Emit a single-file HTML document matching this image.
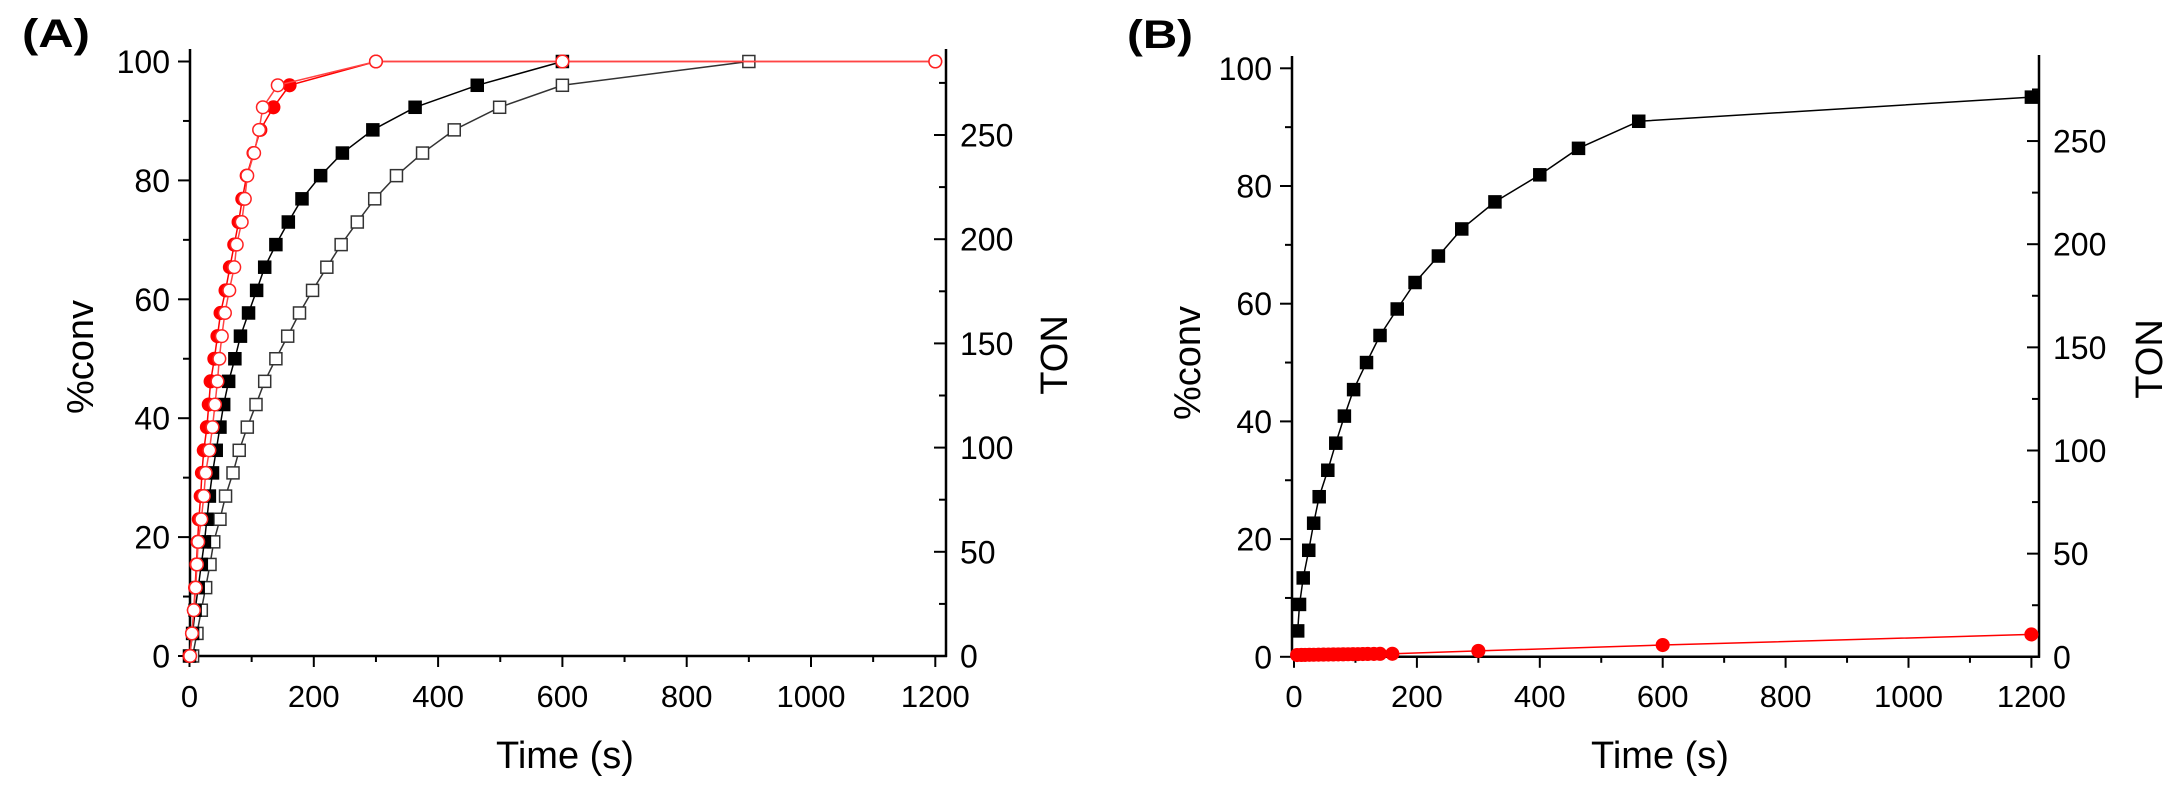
<!DOCTYPE html>
<html><head><meta charset="utf-8"><style>
html,body{margin:0;padding:0;background:#fff;}
svg{display:block;font-family:"Liberation Sans",Arial,sans-serif;}
</style></head><body>
<svg id="s" width="2164" height="786" viewBox="0 0 2164 786" xmlns="http://www.w3.org/2000/svg">
<rect width="2164" height="786" fill="#fff"/>
<text x="22" y="47" font-size="40" font-weight="bold" textLength="68" lengthAdjust="spacingAndGlyphs">(A)</text>
<text x="1127" y="48" font-size="40" font-weight="bold" textLength="66" lengthAdjust="spacingAndGlyphs">(B)</text>
<text x="565" y="768" font-size="38" text-anchor="middle">Time (s)</text>
<text x="1660" y="768" font-size="38" text-anchor="middle">Time (s)</text>
<text transform="translate(93,357) rotate(-90)" font-size="38" text-anchor="middle">%conv</text>
<text transform="translate(1200,363) rotate(-90)" font-size="38" text-anchor="middle">%conv</text>
<text transform="translate(1067,355) rotate(-90)" font-size="38" text-anchor="middle">TON</text>
<text transform="translate(2162,359) rotate(-90)" font-size="38" text-anchor="middle">TON</text>
<g id="g"></g>
</svg>
<script>
var NS="http://www.w3.org/2000/svg",G=document.getElementById('g');
function el(t,a,txt){var e=document.createElementNS(NS,t);for(var k in a)e.setAttribute(k,a[k]);if(txt!=null)e.textContent=txt;G.appendChild(e);return e;}
function panel(P){
  var X=function(t){return P.x0+t*P.px200/200;},Y=function(p){return P.y0-p*P.ppc;};
  // axes
  el('line',{x1:P.lx,y1:P.top,x2:P.lx,y2:P.y0+1,stroke:'#000','stroke-width':2.5});
  el('line',{x1:P.rx,y1:P.rtop,x2:P.rx,y2:P.y0+1,stroke:'#000','stroke-width':2.5});
  el('line',{x1:P.lx-1,y1:P.y0,x2:P.rx+1,y2:P.y0,stroke:'#000','stroke-width':2.5});
  for(var t=0;t<=1200;t+=100){var x=X(t),maj=t%200==0;
    el('line',{x1:x,y1:P.y0,x2:x,y2:P.y0+(maj?11:6),stroke:'#000','stroke-width':2});
    if(maj)el('text',{x:x,y:707,'font-size':31,'text-anchor':'middle'},t);}
  for(var p=0;p<=100;p+=10){var y=Y(p),maj=p%20==0;
    el('line',{x1:P.lx,y1:y,x2:P.lx-(maj?12:7),y2:y,stroke:'#000','stroke-width':2});
    if(maj)el('text',{x:P.lx-20,y:y+11.5,'font-size':32,'text-anchor':'end'},p);}
  for(var v=0;v<=275;v+=25){var y=P.y0-v*P.pton,maj=v%50==0;
    el('line',{x1:P.rx,y1:y,x2:P.rx-(maj?12:7),y2:y,stroke:'#000','stroke-width':2});
    if(maj)el('text',{x:P.rx+14,y:y+11.5,'font-size':32},v);}
  P.series.forEach(function(S){
    var pts=S.d.map(function(d){return [X(d[0]),Y(d[1])];});
    el('polyline',{points:pts.map(function(q){return q.join(',')}).join(' '),fill:'none',stroke:S.lc,'stroke-width':1.5});
    pts.forEach(function(q){
      if(S.m=='sq')el('rect',{x:q[0]-6,y:q[1]-6,width:12,height:12,fill:S.fill,stroke:S.sc,'stroke-width':1.5});
      else el('circle',{cx:q[0],cy:q[1],r:6.3,fill:S.fill,stroke:S.sc,'stroke-width':1.5});
    });
  });
}
var L=[0,3.8,7.7,11.5,15.4,19.2,23,26.9,30.8,34.6,38.5,42.3,46.2,50,53.8,57.7,61.5,65.4,69.2,73,76.9,80.8,84.6,88.5,92.3,96,100];
function zip(xs,ys){return xs.map(function(x,i){return [x,ys[i]];});}
var blackF=zip([0,5,9,14,19,24,28,32,37,43,49,55,63,73,82,95,108,121,139,159,181,211,246,295,363,463,600],L);
var blackO=zip([5,12,19,26,33,39,49,58,70,80,93,107,121,139,158,177,198,221,244,270,298,333,375,426,499,600,900],L);
var redF=zip([0,4,7,9,11,13,15,18,20,23,28,31,34,40,45,50,58,65,72,79,85,92,103,114,135,161,300],L);
redF.push([600,100],[1200,100]);
var redO=zip([1,4,7,10,12,14,19,23,26,32,37,41,45,48,52,57,64,72,76,84,89,93,104,112,118,142,300],L);
redO.push([600,100],[1200,100]);
panel({x0:189.5,px200:124.3,y0:656,ppc:5.945,lx:190,rx:946,top:49,rtop:49,pton:2.084,
 series:[
  {d:blackO,m:'sq',fill:'#fff',sc:'#333',lc:'#333'},
  {d:blackF,m:'sq',fill:'#000',sc:'#000',lc:'#000'},
  {d:redF,m:'ci',fill:'#f00',sc:'#f00',lc:'#f00'},
  {d:redO,m:'ci',fill:'#fff',sc:'#f22',lc:'#f44'}
 ]});
var bB=[[6,4.4],[9,8.9],[15,13.4],[24,18.1],[32,22.7],[41,27.2],[55,31.7],[68,36.3],[82,40.9],[97,45.4],[118,50],[140,54.6],[168,59.1],[197,63.6],[235,68.1],[273,72.7],[327,77.3],[400,81.9],[463,86.4],[561,91],[1200,95.1]];
var rB=[];[5,12,18,25,32,40,48,56,64,72,80,88,96,104,112,120,130,140,160].forEach(function(t,i){rB.push([t,0.3+i*0.012]);});
rB.push([300,1],[600,2],[1200,3.8]);
panel({x0:1294,px200:122.9,y0:656.8,ppc:5.885,lx:1292,rx:2039,top:56,rtop:55,pton:2.063,
 series:[
  {d:rB,m:'ci',fill:'#f00',sc:'#f00',lc:'#f00'},
  {d:bB,m:'sq',fill:'#000',sc:'#000',lc:'#000'}
 ]});
</script>
</body></html>
